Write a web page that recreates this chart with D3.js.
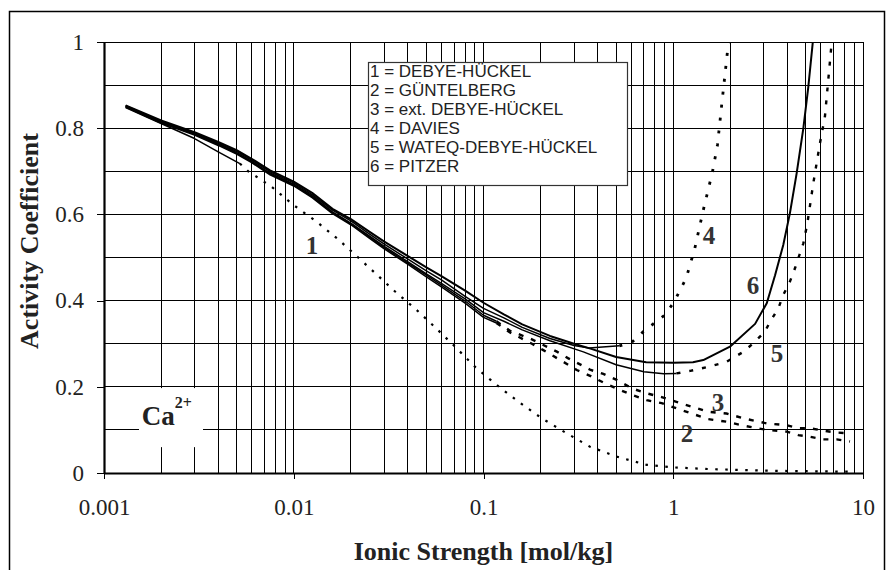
<!DOCTYPE html>
<html><head><meta charset="utf-8">
<script src="https://cdn.jsdelivr.net/npm/d3@7"></script>
<style>
body{margin:0;background:#fff}
.serif{font-family:"Liberation Serif","Times New Roman",serif}
.sans{font-family:"Liberation Sans",Arial,sans-serif}
</style>
</head><body>
<svg id="c" width="889" height="570"></svg>
<script>
// ---------------- DATA ----------------
const xTickValues = [0.001, 0.01, 0.1, 1, 10];
const xTickLabels = ["0.001", "0.01", "0.1", "1", "10"];
const yTickValues = [0, 0.2, 0.4, 0.6, 0.8, 1];
const yTickLabels = ["0", "0.2", "0.4", "0.6", "0.8", "1"];
const xTitle = "Ionic Strength [mol/kg]";
const yTitle = "Activity Coefficient";
const ionLabel = "Ca";
const ionCharge = "2+";
const legendLabels = ["1 = DEBYE-HÜCKEL", "2 = GÜNTELBERG", "3 = ext. DEBYE-HÜCKEL",
                      "4 = DAVIES", "5 = WATEQ-DEBYE-HÜCKEL", "6 = PITZER"];

// 1 = Debye-Hückel (limiting law)
const dhI = [0.0013, 0.002, 0.003, 0.004, 0.0052, 0.00576, 0.00765, 0.00995, 0.0132, 0.01717, 0.0196,
             0.0252, 0.0342, 0.0445, 0.0562, 0.0716, 0.0913, 0.1207, 0.1557, 0.2026, 0.2744, 0.364,
             0.5035, 0.7244, 1.0, 1.562, 3.47, 8.55];
const dhG = [0.848, 0.811, 0.776, 0.745, 0.718, 0.700, 0.664, 0.622, 0.583, 0.542, 0.519,
             0.475, 0.421, 0.378, 0.336, 0.291, 0.244, 0.200, 0.163, 0.127, 0.092, 0.061,
             0.038, 0.019, 0.013, 0.009, 0.005, 0.003];

// 2 = Güntelberg
const guI = [0.0013, 0.002, 0.003, 0.004, 0.005, 0.006, 0.0075, 0.01, 0.0125, 0.016, 0.02, 0.025, 0.03,
             0.04, 0.05, 0.06, 0.08, 0.1, 0.117, 0.138, 0.18, 0.2066, 0.245, 0.28, 0.31, 0.367, 0.428,
             0.503, 0.608, 0.724, 0.869, 1.04, 1.25, 1.53, 1.91, 2.34, 3.11, 3.96, 4.56, 5.26, 6.18, 7.27, 8.54];
const guG = [0.849, 0.812, 0.784, 0.760, 0.740, 0.720, 0.692, 0.666, 0.639, 0.602, 0.576, 0.545, 0.520,
             0.484, 0.455, 0.432, 0.394, 0.361, 0.348, 0.326, 0.300, 0.285, 0.266, 0.251, 0.239, 0.225, 0.210,
             0.196, 0.181, 0.169, 0.162, 0.150, 0.138, 0.125, 0.119, 0.110, 0.100, 0.096, 0.088, 0.084, 0.078, 0.078, 0.073];

// 3 = extended Debye-Hückel
const exI = [0.0013, 0.002, 0.003, 0.004, 0.005, 0.006, 0.0075, 0.01, 0.0125, 0.016, 0.02, 0.025, 0.03,
             0.04, 0.05, 0.06, 0.08, 0.1, 0.117, 0.138, 0.18, 0.2066, 0.245, 0.28, 0.31, 0.367, 0.428,
             0.503, 0.608, 0.724, 0.869, 1.04, 1.25, 1.53, 1.91, 2.34, 3.11, 3.96, 4.56, 5.26, 6.18, 7.27, 8.54];
const exG = [0.850, 0.814, 0.786, 0.762, 0.742, 0.722, 0.694, 0.668, 0.641, 0.604, 0.578, 0.548, 0.523,
             0.487, 0.459, 0.436, 0.399, 0.366, 0.352, 0.330, 0.310, 0.297, 0.281, 0.266, 0.256, 0.239, 0.230,
             0.216, 0.196, 0.185, 0.176, 0.165, 0.154, 0.142, 0.138, 0.127, 0.115, 0.111, 0.104, 0.104, 0.098, 0.094, 0.092];

// 4 = Davies
const daI = [0.0013, 0.002, 0.003, 0.004, 0.005, 0.006, 0.0075, 0.01, 0.0125, 0.016, 0.02, 0.025, 0.03,
             0.04, 0.05, 0.06, 0.08, 0.1, 0.128, 0.16, 0.224, 0.3, 0.36, 0.52, 0.604, 0.695, 0.905, 1.01,
             1.17, 1.30, 1.44, 1.61, 1.71, 1.80, 1.93, 2.0];
const daG = [0.852, 0.816, 0.789, 0.765, 0.746, 0.726, 0.699, 0.673, 0.646, 0.610, 0.585, 0.555, 0.531,
             0.496, 0.469, 0.448, 0.410, 0.382, 0.360, 0.338, 0.312, 0.296, 0.290, 0.295, 0.303, 0.328, 0.367, 0.397,
             0.452, 0.522, 0.610, 0.699, 0.761, 0.854, 0.977, 1.03];

// 5 = WATEQ-Debye-Hückel
const waI = [0.0013, 0.002, 0.003, 0.004, 0.005, 0.006, 0.0075, 0.01, 0.0125, 0.016, 0.02, 0.025, 0.03,
             0.04, 0.05, 0.06, 0.08, 0.1, 0.128, 0.16, 0.224, 0.336, 0.5, 0.70, 0.89, 1.04, 1.23, 1.56, 1.91,
             2.34, 2.64, 3.04, 3.24, 3.58, 3.80, 4.12, 4.38, 4.85, 5.09, 5.47, 5.93, 6.30, 6.78, 6.9];
const waG = [0.851, 0.815, 0.787, 0.763, 0.743, 0.723, 0.696, 0.670, 0.643, 0.606, 0.580, 0.550, 0.526,
             0.490, 0.462, 0.440, 0.404, 0.372, 0.352, 0.332, 0.307, 0.281, 0.251, 0.235, 0.230, 0.231, 0.237, 0.247, 0.258,
             0.281, 0.301, 0.328, 0.351, 0.382, 0.413, 0.444, 0.475, 0.533, 0.579, 0.672, 0.765, 0.827, 0.981, 1.02];

// 6 = Pitzer
const piI = [0.0013, 0.002, 0.003, 0.004, 0.005, 0.006, 0.0075, 0.01, 0.0125, 0.016, 0.02, 0.025, 0.03,
             0.04, 0.05, 0.06, 0.08, 0.1, 0.128, 0.16, 0.224, 0.3, 0.37, 0.5, 0.72, 1.0, 1.27, 1.44, 1.99,
             2.70, 3.11, 3.44, 3.80, 4.12, 4.47, 4.85, 5.15, 5.43, 5.6];
const piG = [0.853, 0.818, 0.791, 0.768, 0.749, 0.729, 0.702, 0.676, 0.650, 0.613, 0.589, 0.560, 0.537,
             0.503, 0.477, 0.457, 0.423, 0.395, 0.368, 0.345, 0.318, 0.300, 0.288, 0.269, 0.257, 0.256, 0.257, 0.262, 0.293,
             0.346, 0.394, 0.459, 0.529, 0.603, 0.695, 0.800, 0.896, 0.997, 1.05];

// curve number labels, placed in data units
const curveLabelText = ["1", "2", "3", "4", "5", "6"];
const curveLabelI = [0.01248, 1.18, 1.72, 1.543, 3.523, 2.633];
const curveLabelG = [0.529, 0.093, 0.165, 0.552, 0.278, 0.436];

// ---------------- STYLE / LAYOUT ----------------
const curves = [
  {I: dhI, G: dhG, solidTo: 0.0052, dash: "2.5,7.5", w: 2.2},
  {I: guI, G: guG, solidTo: 0.117, dash: "5,8", w: 2.4},
  {I: exI, G: exG, solidTo: 0.117, dash: "5,8", w: 2.4},
  {I: daI, G: daG, solidTo: 0.52, dash: "3,10", w: 2.8},
  {I: waI, G: waG, solidTo: 1.04, dash: "4,9", w: 2.4},
  {I: piI, G: piG, solidTo: 100, dash: null, w: 2}
];

const svg = d3.select("#c");
const L = 104, R = 863, T = 42, B = 473;
const x = d3.scaleLog().domain([0.001, 10]).range([L, R]);
const y = d3.scaleLinear().domain([0, 1]).range([B, T]);

svg.append("rect").attr("width", 889).attr("height", 570).attr("fill", "#fff");
// outer frame
svg.append("rect").attr("x", 9.5).attr("y", 11.5).attr("width", 875).attr("height", 620)
  .attr("fill", "none").attr("stroke", "#000").attr("stroke-width", 1.5);

// grid
const grid = svg.append("g").attr("shape-rendering", "crispEdges").attr("stroke", "#000").attr("stroke-width", 1);
grid.selectAll(".gx").data(x.ticks()).join("line")
  .attr("x1", d => x(d)).attr("x2", d => x(d)).attr("y1", T).attr("y2", B);
grid.selectAll(".gy").data(y.ticks(10)).join("line")
  .attr("x1", L).attr("x2", R).attr("y1", d => y(d)).attr("y2", d => y(d));

// axes
const fmtY = d => yTickLabels[yTickValues.indexOf(d)];
const fmtX = d => xTickLabels[xTickValues.indexOf(d)];
const ay = svg.append("g").attr("transform", `translate(${L},0)`)
  .call(d3.axisLeft(y).tickValues(yTickValues).tickFormat(fmtY).tickSize(7).tickPadding(13).tickSizeOuter(0));
const ax = svg.append("g").attr("transform", `translate(0,${B})`)
  .call(d3.axisBottom(x).tickValues(xTickValues).tickFormat(fmtX).tickSize(6).tickPadding(20).tickSizeOuter(0));
[ay, ax].forEach(a => {
  a.selectAll("text").attr("class", "serif").attr("font-size", 23).attr("fill", "#222");
  a.selectAll(".tick line").attr("stroke", "#000").attr("shape-rendering", "crispEdges");
  a.select(".domain").attr("stroke", "#000").attr("stroke-width", 2.2);
  a.attr("font-family", null);
});

// white boxes
const lg = svg.append("g");
lg.append("rect").attr("x", 368.5).attr("y", 62.5).attr("width", 259).attr("height", 123)
  .attr("fill", "#fff").attr("stroke", "#333").attr("stroke-width", 1.2);
lg.selectAll("text").data(legendLabels).join("text")
  .attr("class", "sans").attr("font-size", 17).attr("fill", "#222")
  .attr("x", 370).attr("y", (d, i) => 77 + i * 19).text(d => d);

svg.append("rect").attr("x", x(0.001529)).attr("y", y(0.197))
  .attr("width", x(0.003325) - x(0.001529)).attr("height", y(0.060) - y(0.197)).attr("fill", "#fff");
const ca = svg.append("text").attr("class", "serif").attr("font-weight", "bold").attr("fill", "#222")
  .attr("x", x(0.00158)).attr("y", y(0.111));
ca.append("tspan").attr("font-size", 27).text(ionLabel);
ca.append("tspan").attr("font-size", 16).attr("dy", -17).text(ionCharge);

// curves
svg.append("clipPath").attr("id", "clip").append("rect").attr("x", L).attr("y", T).attr("width", R - L).attr("height", B - T);
const cg = svg.append("g").attr("clip-path", "url(#clip)");
const line = d3.line().x(d => x(d[0])).y(d => y(d[1]));
curves.forEach(c => {
  const pts = c.I.map((v, i) => [v, c.G[i]]);
  const solid = pts.filter(p => p[0] <= c.solidTo);
  const dashed = pts.filter(p => p[0] >= c.solidTo);
  cg.append("path").attr("d", line(solid)).attr("fill", "none").attr("stroke", "#000")
    .attr("stroke-width", c.dash ? 1.5 : c.w).attr("stroke-linejoin", "round");
  if (c.dash && dashed.length > 1) {
    cg.append("path").attr("d", line(dashed)).attr("fill", "none").attr("stroke", "#000")
      .attr("stroke-width", c.w).attr("stroke-dasharray", c.dash);
  }
});

// curve labels
svg.selectAll(".cl").data(curveLabelText).join("text")
  .attr("class", "serif").attr("font-weight", "bold").attr("font-size", 25).attr("fill", "#333")
  .attr("text-anchor", "middle").attr("dy", "0.35em")
  .attr("x", (d, i) => x(curveLabelI[i])).attr("y", (d, i) => y(curveLabelG[i])).text(d => d);

// titles
svg.append("text").attr("class", "serif").attr("font-weight", "bold").attr("font-size", 26).attr("fill", "#222")
  .attr("text-anchor", "middle").attr("x", (L + R) / 2).attr("y", 560).text(xTitle);
svg.append("text").attr("class", "serif").attr("font-weight", "bold").attr("font-size", 26).attr("fill", "#222")
  .attr("text-anchor", "middle").attr("transform", `translate(38,241) rotate(-90)`).text(yTitle);
</script>
</body></html>
